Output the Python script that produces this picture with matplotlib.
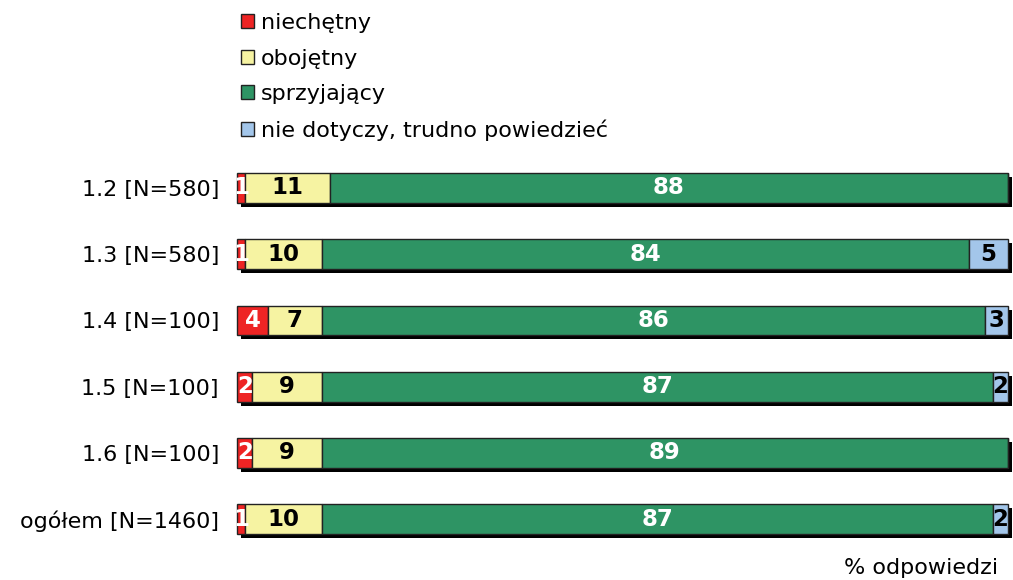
import numpy as np
import matplotlib.pyplot as plt
from matplotlib.patches import Patch
import matplotlib.patheffects as pe

# data to plot
groups = ["1.2 [N=580]", "1.3 [N=580]", "1.4 [N=100]", "1.5 [N=100]", "1.6 [N=100]", "ogółem [N=1460]"]
niechetny = [1, 1, 4, 2, 2, 1]
obojetny = [11, 10, 7, 9, 9, 10]
sprzyjajacy = [88, 84, 86, 87, 89, 87]
nie_dotyczy = [0, 5, 3, 2, 0, 2]

series = [niechetny, obojetny, sprzyjajacy, nie_dotyczy]
names = ["niechętny", "obojętny", "sprzyjający", "nie dotyczy, trudno powiedzieć"]
colors = ["#EE2424", "#F6F3A2", "#2E9464", "#A3C6EA"]
text_colors = ["white", "black", "white", "black"]

fig = plt.figure(figsize=(10.13, 5.8), dpi=100)
ax = fig.add_axes([0.234, 0.048, 0.761, 0.685])
index = np.arange(len(groups))
bar_h = 0.45
shadow = [pe.SimplePatchShadow(offset=(3, -3), shadow_rgbFace="black", alpha=1.0), pe.Normal()]

left = np.zeros(len(groups))
for vals, col, tcol in zip(series, colors, text_colors):
    vals = np.array(vals, dtype=float)
    bars = ax.barh(index, vals, bar_h, left=left, color=col, edgecolor="#222222", linewidth=1.0)
    for b in bars:
        b.set_path_effects(shadow)
        b.set_clip_on(False)
    for i, v in enumerate(vals):
        if v > 0:
            ax.text(left[i] + v / 2, index[i], "%d" % v, ha="center", va="center",
                    color=tcol, fontsize=16.5, fontweight="bold")
    left += vals

ax.set_xlim(0, 100)
ax.set_ylim(len(groups) - 0.5, -0.5)
ax.set_yticks(index)
ax.set_yticklabels(groups, fontsize=16)
ax.tick_params(axis="y", length=0, pad=13)
ax.set_xticks([])
for s in ax.spines.values():
    s.set_visible(False)

handles = [Patch(facecolor=c, edgecolor="#222222", linewidth=1.0) for c in colors]
fig.legend(handles, names, loc="upper left", bbox_to_anchor=(0.218, 1.012), frameon=False,
           fontsize=16, handlelength=0.6, handleheight=0.6, handletextpad=0.3, labelspacing=0.7)

fig.text(0.985, 0.02, "% odpowiedzi", ha="right", va="center", fontsize=16)

plt.savefig("out.png", dpi=100)
